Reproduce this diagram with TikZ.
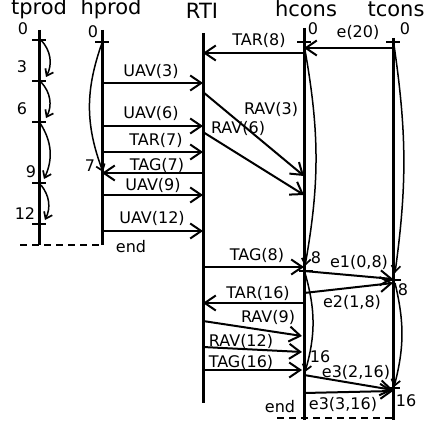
\documentclass[tikz,border=0pt]{standalone}
\usepackage{fontspec}
\setmainfont{DejaVu Sans}
\usetikzlibrary{arrows.meta}
\begin{document}
\begin{tikzpicture}[x=1pt,y=-1pt,
  tl/.style={line width=3pt},
  tk/.style={line width=2pt},
  msg/.style={line width=2pt,-{Straight Barb[length=11pt,width=15pt,line width=2pt]}},
  crv/.style={line width=1.5pt,-{Straight Barb[length=6pt,width=9pt,line width=1.7pt]}},
  lbl/.style={font=\fontsize{16}{18}\selectfont, inner sep=0pt},
  hdr/.style={font=\fontsize{21}{24}\selectfont, inner sep=0pt, anchor=base},
  endl/.style={line width=2.5pt, dash pattern=on 7pt off 5pt}]
\useasboundingbox (0,0) rectangle (425,425);

% headers
\node[hdr] (Htp) at (39,15) {tprod};
\node[hdr] (Hhp) at (111,15) {hprod};
\node[hdr] (Hrti) at (202,19) {RTI};
\node[hdr] (Hhc) at (306,17) {hcons};
\node[hdr] (Htc) at (396,17) {tcons};

% timelines
\coordinate (tpA) at (39,30);  \coordinate (tpB) at (39,245);
\coordinate (hpA) at (102,30); \coordinate (hpB) at (102,245);
\coordinate (rA) at (203,33);  \coordinate (rB) at (203,403);
\coordinate (hcA) at (304,28); \coordinate (hcB) at (304,420);
\coordinate (tcA) at (393,38); \coordinate (tcB) at (393,420);
\draw[tl] (tpA) -- (tpB);
\draw[tl] (hpA) -- (hpB);
\draw[tl] (rA) -- (rB);
\draw[tl] (hcA) -- (hcB);
\draw[tl] (tcA) -- (tcB);

% end dashes
\coordinate (d1) at (20,245);
\coordinate (d2) at (277,418);
\draw[endl] (d1) -- (hpB);
\draw[endl] (d2) -- (393,418);
\node[lbl] (end1) at (131,247) {end};
\node[lbl] (end2) at (280,407) {end};

% ticks
\foreach \y/\n in {40/0,81/3,122/6,183/9,224/12}{
  \coordinate (tp\n) at (39,\y);
  \draw[tk] (32,\y) -- (46,\y);
}
\coordinate (hp0) at (102,42); \draw[tk] (95,42) -- (109,42);
\coordinate (hc0) at (304,42); \draw[tk] (297,42) -- (311,42);
\draw[tk] (299,271) -- (313,271);
\coordinate (tc0) at (393,42); \draw[tk] (386,42) -- (400,42);
\draw[tk] (386,280) -- (401,280);
\draw[tk] (386,388) -- (400,388);

% tick labels
\node[lbl] (l0a) at (23,29) {0};
\node[lbl] (l3a) at (22,67) {3};
\node[lbl] (l6a) at (22,109) {6};
\node[lbl] (l9a) at (31,172) {9};
\node[lbl] (l12a) at (25,214) {12};
\node[lbl] (l0b) at (93,32) {0};
\node[lbl] (l7b) at (90,166) {7};
\node[lbl] (l0c) at (313,29) {0};
\node[lbl] (l0d) at (405,29) {0};
\node[lbl] (l8c) at (316,258) {8};
\node[lbl] (l8d) at (403,290) {8};
\node[lbl] (l16c) at (320,357) {16};
\node[lbl] (l16d) at (406,401) {16};

% tprod curves
\coordinate (a0) at (41,40);  \coordinate (a1) at (46,77);
\coordinate (b0) at (41,82);  \coordinate (b1) at (46,118);
\coordinate (c0) at (40,123); \coordinate (c1) at (44,179);
\coordinate (e0) at (41,185); \coordinate (e1) at (45,220);
\draw[crv] (a0) to[bend left=35] (a1);
\draw[crv] (b0) to[bend left=35] (b1);
\draw[crv] (c0) to[bend left=29] (c1);
\draw[crv] (e0) to[bend left=32] (e1);

% hprod curve
\coordinate (hq0) at (102,43); \coordinate (hq1) at (103,172);
\draw[crv] (hq0) to[bend right=20] (hq1);

% hcons / tcons curves
\coordinate (hk0) at (305,50);  \coordinate (hk1) at (305,266);
\coordinate (hk2) at (305,273); \coordinate (hk3) at (305,372);
\coordinate (tk0) at (394,45);  \coordinate (tk1) at (395,273);
\coordinate (tk2) at (395,283); \coordinate (tk3) at (394,387);
\draw[crv] (hk0) to[bend left=10] (hk1);
\draw[crv] (hk2) to[bend left=16] (hk3);
\draw[crv] (tk0) to[bend left=8] (tk1);
\draw[crv] (tk2) to[bend left=14] (tk3);

% hprod <-> RTI
\coordinate (m1s) at (102,83);  \coordinate (m1e) at (203,83);
\coordinate (m2s) at (102,126); \coordinate (m2e) at (203,126);
\coordinate (m3s) at (102,152); \coordinate (m3e) at (203,152);
\coordinate (m4s) at (203,173); \coordinate (m4e) at (102,173);
\coordinate (m5s) at (102,195); \coordinate (m5e) at (203,195);
\coordinate (m6s) at (102,231); \coordinate (m6e) at (203,231);
\draw[msg] (m1s) -- (m1e);
\draw[msg] (m2s) -- (m2e);
\draw[msg] (m3s) -- (m3e);
\draw[msg] (m4s) -- (m4e);
\draw[msg] (m5s) -- (m5e);
\draw[msg] (m6s) -- (m6e);
\node[lbl] (t1) at (151,71) {UAV(3)};
\node[lbl] (t2) at (151,113) {UAV(6)};
\node[lbl] (t3) at (156,140) {TAR(7)};
\node[lbl] (t4) at (157,165) {TAG(7)};
\node[lbl] (t5) at (153,185) {UAV(9)};
\node[lbl] (t6) at (152,218) {UAV(12)};

% RTI <-> hcons
\coordinate (n1s) at (304,53);  \coordinate (n1e) at (203,53);
\coordinate (n2s) at (203,92);  \coordinate (n2e) at (304,176);
\coordinate (n3s) at (203,132); \coordinate (n3e) at (304,195);
\coordinate (n4s) at (203,267); \coordinate (n4e) at (304,267);
\coordinate (n5s) at (304,303); \coordinate (n5e) at (203,303);
\coordinate (n6s) at (203,321); \coordinate (n6e) at (302,336);
\coordinate (n7s) at (203,347); \coordinate (n7e) at (302,352);
\coordinate (n8s) at (203,370); \coordinate (n8e) at (302,370);
\draw[msg] (n1s) -- (n1e);
\draw[msg] (n2s) -- (n2e);
\draw[msg] (n3s) -- (n3e);
\draw[msg] (n4s) -- (n4e);
\draw[msg] (n5s) -- (n5e);
\draw[msg] (n6s) -- (n6e);
\draw[msg] (n7s) -- (n7e);
\draw[msg] (n8s) -- (n8e);
\node[lbl] (u1) at (259,40) {TAR(8)};
\node[lbl] (u2) at (271,109) {RAV(3)};
\node[lbl] (u3) at (238,128) {RAV(6)};
\node[lbl] (u4) at (257,255) {TAG(8)};
\node[lbl] (u5) at (258,293) {TAR(16)};
\node[lbl] (u6) at (268,317) {RAV(9)};
\node[lbl] (u7) at (241,341) {RAV(12)};
\node[lbl] (u8) at (241,362) {TAG(16)};

% hcons <-> tcons
\coordinate (p0s) at (393,48);  \coordinate (p0e) at (304,48);
\coordinate (p1s) at (304,271); \coordinate (p1e) at (393,279);
\coordinate (p2s) at (304,293); \coordinate (p2e) at (393,283);
\coordinate (p3s) at (304,375); \coordinate (p3e) at (393,390);
\coordinate (p4s) at (304,393); \coordinate (p4e) at (393,391);
\draw[msg] (p0s) -- (p0e);
\draw[msg] (p1s) -- (p1e);
\draw[msg] (p2s) -- (p2e);
\draw[msg] (p3s) -- (p3e);
\draw[msg] (p4s) -- (p4e);
\node[lbl] (v0) at (358,32) {e(20)};
\node[lbl] (v1) at (359,262) {e1(0,8)};
\node[lbl] (v2) at (352,302) {e2(1,8)};
\node[lbl] (v3) at (356,372) {e3(2,16)};
\node[lbl] (v4) at (343,404) {e3(3,16)};
\end{tikzpicture}
\end{document}
